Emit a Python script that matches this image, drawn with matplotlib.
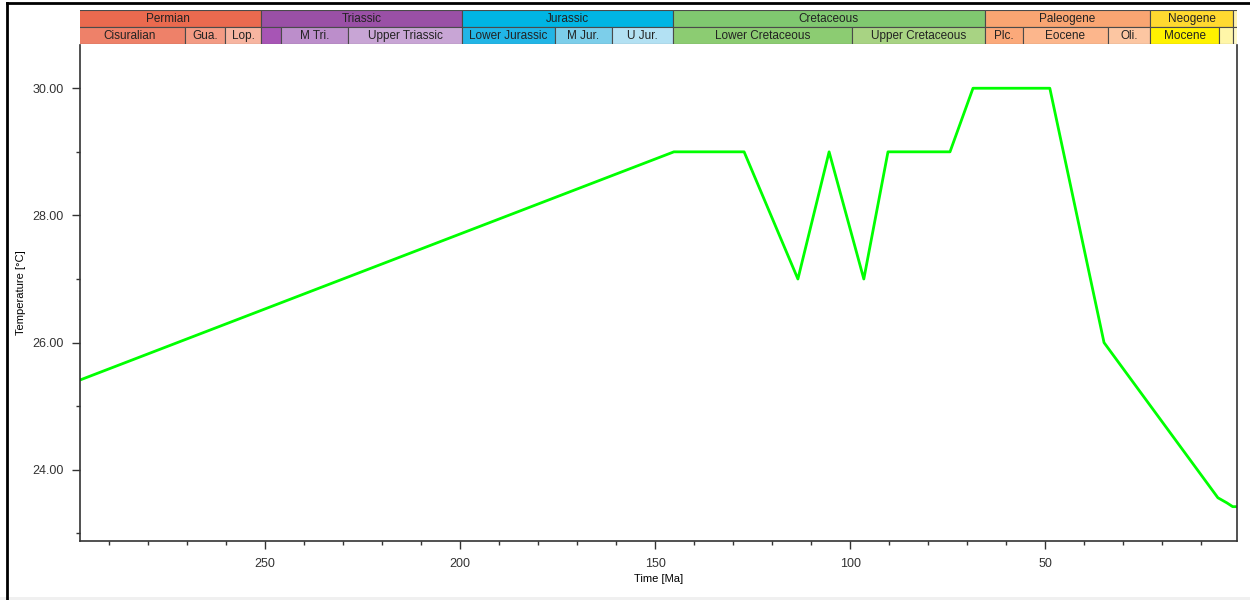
import matplotlib.pyplot as plt
from matplotlib.lines import Line2D
from matplotlib.patches import Rectangle
from matplotlib.ticker import MultipleLocator


# temperature curve (Ma, degC)
TIME_MA: list[float] = [298.0, 145.2, 127.2, 113.4, 105.4, 96.5, 90.3, 74.4, 68.5, 48.8, 34.9, 5.7, 3.4, 1.9, 0.0]
TEMPERATURE_C: list[float] = [25.4, 29.0, 29.0, 27.0, 29.0, 27.0, 29.0, 29.0, 30.0, 30.0, 26.0, 23.56, 23.48, 23.42, 23.42]

# periods (top row of the stratigraphic bar)
PERIOD_NAMES: list[str] = ["Permian", "Triassic", "Jurassic", "Cretaceous", "Paleogene", "Neogene", ""]
PERIOD_START: list[float] = [299.0, 251.0, 199.6, 145.5, 65.5, 23.03, 1.806]
PERIOD_END: list[float] = [251.0, 199.6, 145.5, 65.5, 23.03, 1.806, 0.0]
PERIOD_COLORS: list[str] = ["#EA6A4F", "#9A50A6", "#00B5E4", "#80C870", "#F9A572", "#FFD930", "#FFF3B0"]

# epochs (second row)
EPOCH_NAMES: list[str] = [
    "Cisuralian", "Gua.", "Lop.",
    "", "M Tri.", "Upper Triassic",
    "Lower Jurassic", "M Jur.", "U Jur.",
    "Lower Cretaceous", "Upper Cretaceous",
    "Plc.", "Eocene", "Oli.",
    "Mocene", "", "",
]
EPOCH_START: list[float] = [
    299.0, 270.6, 260.4,
    251.0, 245.9, 228.7,
    199.6, 175.6, 161.2,
    145.5, 99.6,
    65.5, 55.8, 33.9,
    23.03, 5.332, 1.806,
]
EPOCH_END: list[float] = [
    270.6, 260.4, 251.0,
    245.9, 228.7, 199.6,
    175.6, 161.2, 145.5,
    99.6, 65.5,
    55.8, 33.9, 23.03,
    5.332, 1.806, 0.0,
]
EPOCH_COLORS: list[str] = [
    "#EE8169", "#F39B84", "#F7B5A1",
    "#A755B5", "#BC8ECB", "#C8A5D5",
    "#22B5E6", "#7CCEEA", "#B3E1F3",
    "#8CCC72", "#A8D383",
    "#FBA97A", "#FCB68C", "#FCC6A2",
    "#FFF200", "#FFF6A8", "#FFF9C8",
]

X_TICKS: list[int] = [250, 200, 150, 100, 50]
Y_TICKS: list[float] = [24.0, 26.0, 28.0, 30.0]

FONT = "Liberation Sans"


def draw_band_row(ax, names, starts, ends, colors, y0: float) -> None:
    """
    One row of coloured time boxes with a centred label.
    """
    for name, start, end, color in zip(names, starts, ends, colors):
        ax.add_patch(
            Rectangle((start, y0), end - start, 1.0, facecolor=color,
                      edgecolor="#4a4a4a", linewidth=0.8)
        )
        if name:
            ax.text((start + end) / 2, y0 + 0.48, name, ha="center", va="center",
                    fontsize=8.5, family=FONT, color="#222222")


def main() -> None:
    fig = plt.figure(figsize=(12.5, 6.0), dpi=100)

    left, right = 80 / 1250, 1237 / 1250
    ax = fig.add_axes([left, 1 - 541 / 600, right - left, (541 - 45) / 600])
    band_ax = fig.add_axes([left, 1 - 44 / 600, right - left, 34 / 600])

    ax.plot(TIME_MA, TEMPERATURE_C, color="#00FF00", linewidth=2.0)

    ax.set_xlim(297.5, 0.8)
    ax.set_ylim(22.88, 30.68)

    ax.set_xticks(X_TICKS)
    ax.xaxis.set_minor_locator(MultipleLocator(10))
    ax.set_yticks(Y_TICKS)
    ax.yaxis.set_minor_locator(MultipleLocator(1))
    ax.set_yticklabels([f"{v:.2f}" for v in Y_TICKS])

    ax.tick_params(axis="both", which="major", direction="out", length=6,
                   width=1.0, color="#333333", labelsize=9, labelcolor="#333333", pad=6)
    ax.tick_params(axis="both", which="minor", direction="out", length=3,
                   width=1.0, color="#333333")
    for label in ax.get_xticklabels() + ax.get_yticklabels():
        label.set_family(FONT)

    ax.spines["top"].set_visible(False)
    for side in ("left", "right", "bottom"):
        ax.spines[side].set_color("#333333")
        ax.spines[side].set_linewidth(1.2)

    ax.set_xlabel("Time [Ma]", fontsize=8, family=FONT, labelpad=3)
    ax.set_ylabel("Temperature [\u00b0C]", fontsize=8, family=FONT)
    ax.yaxis.set_label_coords(-0.047, 0.5)

    # stratigraphic bar above the plot
    band_ax.set_xlim(ax.get_xlim())
    band_ax.set_ylim(0, 2)
    band_ax.axis("off")
    draw_band_row(band_ax, PERIOD_NAMES, PERIOD_START, PERIOD_END, PERIOD_COLORS, 1.0)
    draw_band_row(band_ax, EPOCH_NAMES, EPOCH_START, EPOCH_END, EPOCH_COLORS, 0.0)

    # window frame of the screenshot
    fig.add_artist(Line2D([7 / 1250, 7 / 1250], [0, 1 - 3 / 600], color="black", linewidth=2))
    fig.add_artist(Line2D([7 / 1250, 1], [1 - 3 / 600, 1 - 3 / 600], color="black", linewidth=2))
    fig.add_artist(Rectangle((0, 0), 1, 3 / 600, facecolor="#F0F0F0", edgecolor="none"))

    fig.savefig("out.png", dpi=100)


if __name__ == "__main__":
    main()
